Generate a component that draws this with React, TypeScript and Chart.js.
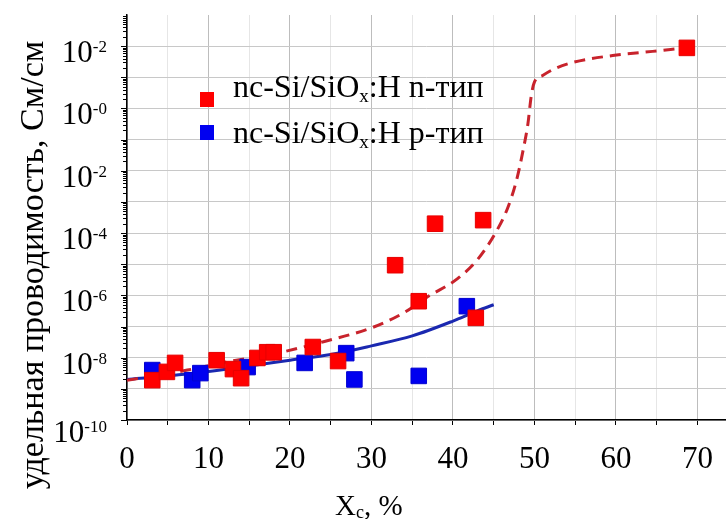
import React, { useEffect, useRef } from 'react';
import { Chart, registerables } from 'chart.js';

Chart.register(...registerables);

// ---- data ----
const nTypeX = [3.1, 4.9, 5.9, 11.0, 13.0, 14.0, 16.0, 17.2, 18.0, 22.8, 25.9, 32.9, 35.8, 37.8, 42.8, 43.7, 68.7];
const nTypeY = [1.9e-9, 3.5e-9, 6.8e-9, 8.3e-9, 4.3e-9, 2.2e-9, 9.8e-9, 1.5e-8, 1.5e-8, 2.2e-8, 7.8e-9, 9.3e-6, 6.5e-7, 2.0e-4, 1.9e-7, 2.6e-4, 88];

const pTypeX = [3.1, 8.0, 9.0, 14.8, 21.8, 26.9, 27.9, 35.8, 41.7];
const pTypeY = [4.0e-9, 1.9e-9, 3.2e-9, 5.0e-9, 6.8e-9, 1.4e-8, 2.0e-9, 2.6e-9, 4.5e-7];

const nFitX = [0, 3, 7.4, 12, 18.4, 24, 30.2, 34, 36.8, 40.6, 43, 45.2, 46.7, 47.8, 48.6, 49.2, 49.6, 50, 51, 52.5, 54.7, 59.6, 64.5, 67.9];
const nFitY = [1.9e-9, 2.5e-9, 4.0e-9, 7.1e-9, 1.4e-8, 3.2e-8, 9.5e-8, 2.8e-7, 8.7e-7, 3.5e-6, 1.4e-5, 1.0e-4, 6.3e-4, 5.0e-3, 4.5e-2, 0.33, 2.5, 7.1, 11.5, 19, 30, 50, 68, 85];

const pFitX = [0, 5, 10, 15, 20, 25, 30, 35, 40, 43, 45];
const pFitY = [2.0e-9, 2.6e-9, 3.6e-9, 5.4e-9, 8.3e-9, 1.26e-8, 2.4e-8, 5.0e-8, 1.5e-7, 3.2e-7, 5.0e-7];

const xTickValues = [0, 5, 10, 15, 20, 25, 30, 35, 40, 45, 50, 55, 60, 65, 70];
const xLabelValues = [0, 10, 20, 30, 40, 50, 60, 70];
const xLabels = ['0', '10', '20', '30', '40', '50', '60', '70'];

const yDecades = [-10, -9, -8, -7, -6, -5, -4, -3, -2, -1, 0, 1, 2];
const yLabelValues = [1e2, 1e0, 1e-2, 1e-4, 1e-6, 1e-8, 1e-10];
const yLabelExponents = ['-2', '-0', '-2', '-4', '-6', '-8', '-10'];

const yTitle = 'удельная проводимость, См/см';
const legendMain = 'nc-Si/SiO';
const legendSub = 'x';
const legendTails = [':H n-тип', ':H p-тип'];

const SERIF = '"Liberation Serif", "Times New Roman", serif';

const pts = (xs: number[], ys: number[]) => xs.map((x, i) => ({ x, y: ys[i] }));

const overlay = {
  id: 'overlay',
  afterDraw(chart: any) {
    const { ctx, chartArea, scales } = chart;
    const x = scales.x;
    const y = scales.y;
    ctx.save();
    // y-axis major/minor ticks (outside, to the left)
    ctx.strokeStyle = '#000';
    ctx.lineWidth = 1;
    for (const d of yDecades) {
      for (let k = 1; k <= 9; k++) {
        const v = k * Math.pow(10, d);
        const py = Math.round(y.getPixelForValue(v)) + 0.5;
        if (py < chartArea.top || py > chartArea.bottom + 1) continue;
        const len = k === 1 ? 6 : 4;
        ctx.beginPath();
        ctx.moveTo(chartArea.left - len, py);
        ctx.lineTo(chartArea.left, py);
        ctx.stroke();
      }
    }
    ctx.fillStyle = '#000';
    ctx.textBaseline = 'alphabetic';
    ctx.textAlign = 'left';
    // y tick labels with superscript exponents
    const right = 107;
    yLabelValues.forEach((v, i) => {
      const py = y.getPixelForValue(v);
      const base = py + (i === yLabelValues.length - 1 ? 22 : 16);
      ctx.font = `17px ${SERIF}`;
      const ew = ctx.measureText(yLabelExponents[i]).width;
      ctx.fillText(yLabelExponents[i], right - ew, base - 10);
      ctx.font = `31px ${SERIF}`;
      const tw = ctx.measureText('10').width;
      ctx.fillText('10', right - ew - tw, base);
    });
    // x tick labels
    ctx.font = `31px ${SERIF}`;
    ctx.textAlign = 'center';
    xLabelValues.forEach((v, i) => {
      const px = x.getPixelForValue(v);
      ctx.fillText(xLabels[i], px, 468);
    });
    // x title  X_c, %
    ctx.textAlign = 'left';
    let tx = 335;
    ctx.font = `29px ${SERIF}`;
    ctx.fillText('X', tx, 515);
    tx += ctx.measureText('X').width;
    ctx.font = `18px ${SERIF}`;
    ctx.fillText('c', tx, 518);
    tx += ctx.measureText('c').width;
    ctx.font = `29px ${SERIF}`;
    ctx.fillText(', %', tx, 515);
    // y title (rotated)
    ctx.save();
    ctx.translate(43, 265);
    ctx.rotate(-Math.PI / 2);
    ctx.font = `34px ${SERIF}`;
    ctx.textAlign = 'center';
    ctx.fillText(yTitle, 0, 0);
    ctx.restore();
    // legend
    const colors = ['#ff0000', '#0000f0'];
    const sqY = [92, 125];
    const baseY = [97, 143];
    for (let i = 0; i < 2; i++) {
      ctx.fillStyle = colors[i];
      ctx.fillRect(200, sqY[i], 14, 15);
      ctx.fillStyle = '#000';
      let lx = 233;
      ctx.font = `32px ${SERIF}`;
      ctx.fillText(legendMain, lx, baseY[i]);
      lx += ctx.measureText(legendMain).width;
      ctx.font = `19px ${SERIF}`;
      ctx.fillText(legendSub, lx, baseY[i] + 5);
      lx += ctx.measureText(legendSub).width;
      ctx.font = `32px ${SERIF}`;
      ctx.fillText(legendTails[i], lx, baseY[i]);
    }
    ctx.restore();
  },
};

export default function App() {
  const ref = useRef<HTMLCanvasElement>(null);
  useEffect(() => {
    document.body.style.margin = '0';
    const canvas = ref.current!;
    const chart = new Chart(canvas, {
      type: 'scatter',
      data: {
        datasets: [
          {
            label: 'nc-Si/SiOx:H n-тип',
            data: pts(nTypeX, nTypeY),
            pointStyle: 'rect',
            pointRadius: 11,
            backgroundColor: '#ff0000',
            borderColor: '#e60000',
            borderWidth: 1,
            showLine: false,
            order: 0,
          },
          {
            label: 'nc-Si/SiOx:H p-тип',
            data: pts(pTypeX, pTypeY),
            pointStyle: 'rect',
            pointRadius: 11,
            backgroundColor: '#0000f0',
            borderColor: '#0000d0',
            borderWidth: 1,
            showLine: false,
            order: 1,
          },
          {
            label: 'n fit',
            data: pts(nFitX, nFitY),
            showLine: true,
            pointRadius: 0,
            borderColor: '#c8232c',
            borderWidth: 3,
            borderDash: [11, 7],
            cubicInterpolationMode: 'monotone',
            order: 2,
          },
          {
            label: 'p fit',
            data: pts(pFitX, pFitY),
            showLine: true,
            pointRadius: 0,
            borderColor: '#1a28b0',
            borderWidth: 3,
            cubicInterpolationMode: 'monotone',
            order: 3,
          },
        ],
      },
      options: {
        animation: false,
        responsive: false,
        devicePixelRatio: 1,
        layout: { autoPadding: false, padding: { left: 127, top: 15, right: 0, bottom: 94 } },
        plugins: { legend: { display: false }, tooltip: { enabled: false } },
        scales: {
          x: {
            type: 'linear',
            min: 0,
            max: 73.5,
            afterBuildTicks: (s: any) => {
              s.ticks = xTickValues.map((v) => ({ value: v }));
            },
            ticks: { display: false },
            grid: {
              color: (c: any) => (c.tick && c.tick.value % 10 === 0 ? '#bdbdbd' : '#e6e6e6'),
              lineWidth: 1,
              drawTicks: true,
              tickLength: 5,
              tickColor: '#000',
            },
            border: { color: '#000', width: 1.5 },
          },
          y: {
            type: 'logarithmic',
            min: 1e-10,
            max: 1e3,
            afterBuildTicks: (s: any) => {
              s.ticks = yDecades.map((d) => ({ value: Math.pow(10, d) }));
            },
            ticks: { display: false },
            grid: { color: '#c8c8c8', lineWidth: 1, drawTicks: false },
            border: { color: '#000', width: 1.5 },
          },
        },
      },
      plugins: [overlay],
    });
    return () => chart.destroy();
  }, []);
  return (
    <div style={{ position: 'fixed', left: 0, top: 0, width: 726, height: 519, background: '#fff' }}>
      <canvas ref={ref} width={726} height={519} style={{ width: 726, height: 519 }} />
    </div>
  );
}
